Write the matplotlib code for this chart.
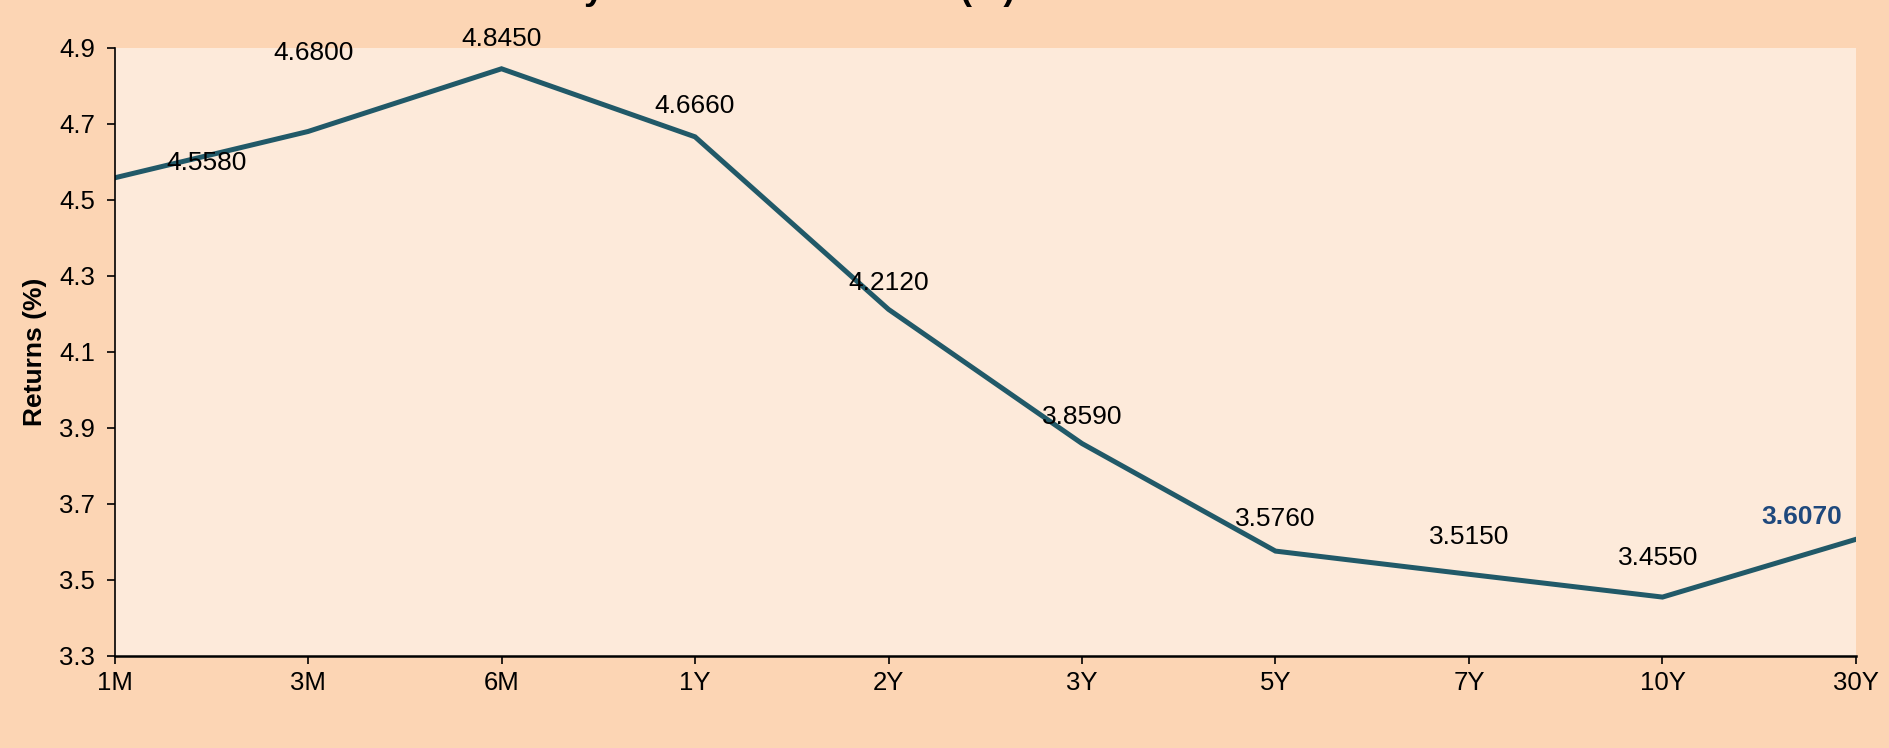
import numpy as np
import matplotlib.pyplot as plt

plt.rcParams['font.family'] = ['Liberation Sans', 'DejaVu Sans']

tenors = ["1M", "3M", "6M", "1Y", "2Y", "3Y", "5Y", "7Y", "10Y", "30Y"]
returns = [4.558, 4.680, 4.845, 4.666, 4.212, 3.859, 3.576, 3.515, 3.455, 3.607]
y_ticks = [3.3, 3.5, 3.7, 3.9, 4.1, 4.3, 4.5, 4.7, 4.9]

# label nudges in pixels (excel-ish placement)
label_dx = [92, 6, 0, 0, 0, 0, 0, 0, -4, -54]
label_dy = [15, 78, 30, 31, 26, 27, 32, 37, 39, 22]

fig = plt.figure(figsize=(18.9, 7.48), dpi=100, facecolor="#FCD5B4")
ax = fig.add_axes([0.0606, 0.123, 0.9214, 0.813])
ax.set_facecolor("#FDEADA")

x = np.arange(len(tenors))
ax.plot(x, returns, color="#215968", lw=3.6, solid_joinstyle="miter")

for i, v in enumerate(returns):
    last = i == len(returns) - 1
    ax.annotate("%.4f" % v, (x[i], v), xytext=(label_dx[i], label_dy[i]),
                textcoords="offset pixels", ha="center", va="center",
                fontsize=19, fontweight="bold" if last else "normal",
                color="#1F497D" if last else "black")

ax.set_xlim(0, len(tenors) - 1)
ax.set_ylim(3.3, 4.9)
ax.set_xticks(x)
ax.set_xticklabels(tenors)
ax.set_yticks(y_ticks)
ax.set_yticklabels(["%.1f" % t for t in y_ticks])
ax.tick_params(labelsize=18.5, length=6, width=1.2, colors="black")
ax.tick_params(axis="y", pad=8)
ax.tick_params(axis="x", pad=5)
ax.set_ylabel("Returns (%)", fontsize=19, fontweight="bold")
ax.yaxis.set_label_coords(-0.0385, 0.5)

for s in ["top", "right"]:
    ax.spines[s].set_visible(False)
ax.spines["left"].set_linewidth(1.2)
ax.spines["bottom"].set_linewidth(1.8)

# title sits above the canvas, only descenders show
fig.text(1015 / 1890, 1.0, "Treasury Yield Curve Returns (%)", ha="right",
         va="baseline", fontsize=25.5, fontweight="bold")

fig.savefig("out.png", dpi=100, facecolor=fig.get_facecolor())
